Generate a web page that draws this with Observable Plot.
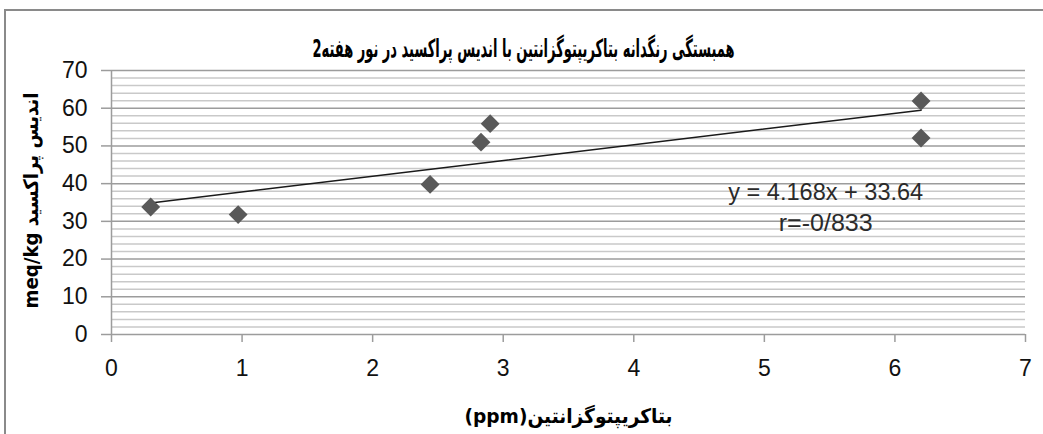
<!DOCTYPE html>
<html><head><meta charset="utf-8">
<script src="https://cdn.jsdelivr.net/npm/d3@7"></script>
<script src="https://cdn.jsdelivr.net/npm/@observablehq/plot@0.6"></script>
<style>
html,body{margin:0;padding:0;background:#fff;overflow:hidden;width:1043px;height:434px}
#frame{position:absolute;left:4px;top:9px;width:1100px;height:500px;border:2px solid #8a8a8a;box-sizing:border-box}
#chart{position:absolute;left:0;top:0}
</style></head><body>
<div id="frame"></div><div id="chart"></div>
<script>
// data
const betaCarotene = [0.30, 0.97, 2.44, 2.83, 2.90, 6.20, 6.20];   // ppm
const peroxideValue = [33.8, 31.8, 39.8, 51.0, 55.9, 61.9, 52.1];  // meq/kg
const slope = 4.168;
const intercept = 33.64;
const xTicks = [0, 1, 2, 3, 4, 5, 6, 7];
const yTicks = [0, 10, 20, 30, 40, 50, 60, 70];
const yMinor = [2, 4, 6, 8, 12, 14, 16, 18, 22, 24, 26, 28, 32, 34, 36, 38, 42, 44, 46, 48, 52, 54, 56, 58, 62, 64, 66, 68];
const titleText = "همبستگی رنگدانه بتاکریپتوگزانتین با اندیس پراکسید در نور هفته2";
const xLabel = "(ppm)بتاکریپتوگزانتین";
const yLabel = "meq/kg اندیس پراکسید";
const equationText = "y = 4.168x + 33.64";
const rText = "r=-0/833";
const equationAt = {x: 5.47, y1: 37.7, y2: 29.5};

const points = betaCarotene.map((b, i) => ({x: b, y: peroxideValue[i]}));
const xMin = d3.min(betaCarotene), xMax = d3.max(betaCarotene);
const trend = [xMin, xMax].map(x => ({x, y: slope * x + intercept}));

const arabicFont = "'DejaVu Sans', 'Noto Sans', sans-serif";
const latinFont = "'Liberation Sans', Arial, sans-serif";

const chart = Plot.plot({
  width: 1043,
  height: 434,
  marginTop: 70,
  marginLeft: 111,
  marginRight: 18,
  marginBottom: 100,
  x: {domain: [0, 7]},
  y: {domain: [0, 70]},
  style: {background: "transparent", fontFamily: latinFont, fontSize: "23px"},
  marks: [
    Plot.ruleY(yMinor, {stroke: "#c9c9c9", strokeWidth: 1.5}),
    Plot.ruleY(yTicks, {stroke: "#9c9c9c", strokeWidth: 1.5}),
    Plot.ruleX([0], {stroke: "#9c9c9c", strokeWidth: 1.5}),
    Plot.axisX({ticks: xTicks, tickFormat: d3.format("d"), tickSize: 8, tickPadding: 17, fontSize: 23, stroke: "#9c9c9c", strokeWidth: 1.5, fill: "#111", label: null}),
    Plot.axisY({ticks: yTicks, tickFormat: d3.format("d"), tickSize: 10, tickPadding: 14, fontSize: 23, stroke: "#9c9c9c", strokeWidth: 1.5, fill: "#111", label: null}),
    Plot.line(trend, {x: "x", y: "y", stroke: "#1a1a1a", strokeWidth: 1.5}),
    Plot.dot(points, {x: "x", y: "y", symbol: "diamond2", r: 8.5, fill: "#595959", stroke: "none"}),
    Plot.text([equationText], {x: equationAt.x, y: equationAt.y1, text: d => d, fontSize: 23, fill: "#2a2a2a", className: "fit-eq"}),
    Plot.text([rText], {x: equationAt.x, y: equationAt.y2, text: d => d, fontSize: 23, fill: "#2a2a2a", className: "fit-r"}),
    Plot.text([titleText], {frameAnchor: "top", textAnchor: "middle", dx: -45, dy: -31, text: d => d, fontSize: 25, fontWeight: "bold", fontFamily: arabicFont, fill: "#000", className: "fit-title"}),
    Plot.text([xLabel], {frameAnchor: "bottom", textAnchor: "middle", dy: 88, text: d => d, fontSize: 20, fontWeight: "bold", fontFamily: arabicFont, fill: "#000", className: "fit-xlabel"}),
    Plot.text([yLabel], {frameAnchor: "left", textAnchor: "middle", dx: -80, dy: -2, rotate: -90, text: d => d, fontSize: 20, fontWeight: "bold", fontFamily: arabicFont, fill: "#000", className: "fit-ylabel"})
  ]
});
document.getElementById("chart").appendChild(chart);

// condense the texts to the widths they have in the reference
const fitWidths = {"fit-title": 422, "fit-xlabel": 208, "fit-ylabel": 216, "fit-eq": 195, "fit-r": 94};
for (const [cls, w] of Object.entries(fitWidths)) {
  chart.querySelectorAll("." + cls + " text").forEach(t => {
    t.setAttribute("textLength", w);
    t.setAttribute("lengthAdjust", "spacingAndGlyphs");
  });
}
</script>
</body></html>
